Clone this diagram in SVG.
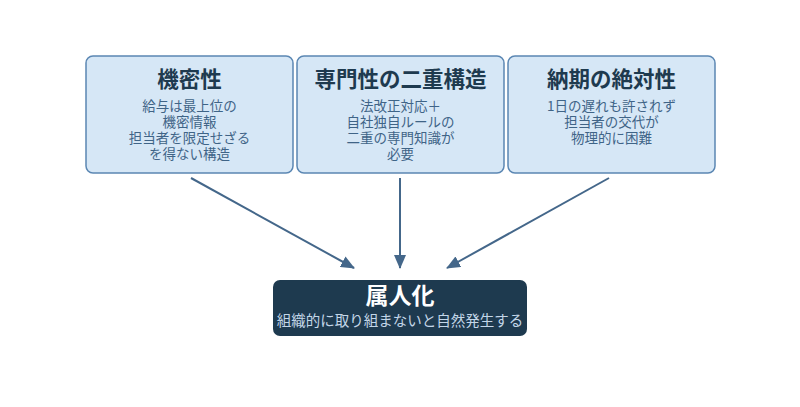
<svg xmlns="http://www.w3.org/2000/svg" width="800" height="407" viewBox="0 0 800 407">
<style>
.box{fill:#d6e7f6;stroke:#5b87b3;stroke-width:1.5}
.t{font-family:"Noto Sans CJK JP","Noto Sans",sans-serif;font-weight:bold;font-size:21.5px;fill:#1e3a4f;text-anchor:middle}
.b{font-family:"Noto Sans CJK JP","Noto Sans",sans-serif;font-size:13.5px;fill:#3f6487;text-anchor:middle}
.c{stroke:#44678a;stroke-width:2;fill:none;marker-end:url(#ah)}
</style>
<defs><marker id="ah" markerWidth="14" markerHeight="12" refX="13" refY="6" orient="auto" markerUnits="userSpaceOnUse" viewBox="0 0 14 12"><path d="M0,0L14,6L0,12z" fill="#44678a"/></marker></defs>
<rect width="800" height="407" fill="#fff"/>
<g id="n1"><rect class="box" x="86" y="56" width="207" height="117" rx="7"/>
<text class="t" x="189.5" y="87">機密性</text>
<text class="b" x="189.5" y="111">給与は最上位の</text><text class="b" x="189.5" y="127">機密情報</text><text class="b" x="189.5" y="143">担当者を限定せざる</text><text class="b" x="189.5" y="159">を得ない構造</text></g>
<g id="n2"><rect class="box" x="297" y="56" width="207" height="117" rx="7"/>
<text class="t" x="400.5" y="87">専門性の二重構造</text>
<text class="b" x="400.5" y="111">法改正対応＋</text><text class="b" x="400.5" y="127">自社独自ルールの</text><text class="b" x="400.5" y="143">二重の専門知識が</text><text class="b" x="400.5" y="159">必要</text></g>
<g id="n3"><rect class="box" x="508" y="56" width="207" height="117" rx="7"/>
<text class="t" x="611.5" y="87">納期の絶対性</text>
<text class="b" x="611.5" y="111">1日の遅れも許されず</text><text class="b" x="611.5" y="127">担当者の交代が</text><text class="b" x="611.5" y="143">物理的に困難</text></g>
<g id="n4"><rect x="273" y="280" width="254" height="56" rx="7" fill="#1e3a4f"/>
<text x="400" y="304" font-family="Noto Sans CJK JP,sans-serif" font-weight="bold" font-size="23" fill="#fff" text-anchor="middle">属人化</text>
<text x="400" y="326" font-family="Noto Sans CJK JP,sans-serif" font-size="14.5" fill="#c3d6e8" text-anchor="middle">組織的に取り組まないと自然発生する</text></g>
<g id="connectors">
<line class="c" x1="191" y1="178" x2="354" y2="268"/>
<line class="c" x1="400" y1="178" x2="400" y2="268"/>
<line class="c" x1="609" y1="178" x2="447" y2="268"/>
</g>
</svg>
